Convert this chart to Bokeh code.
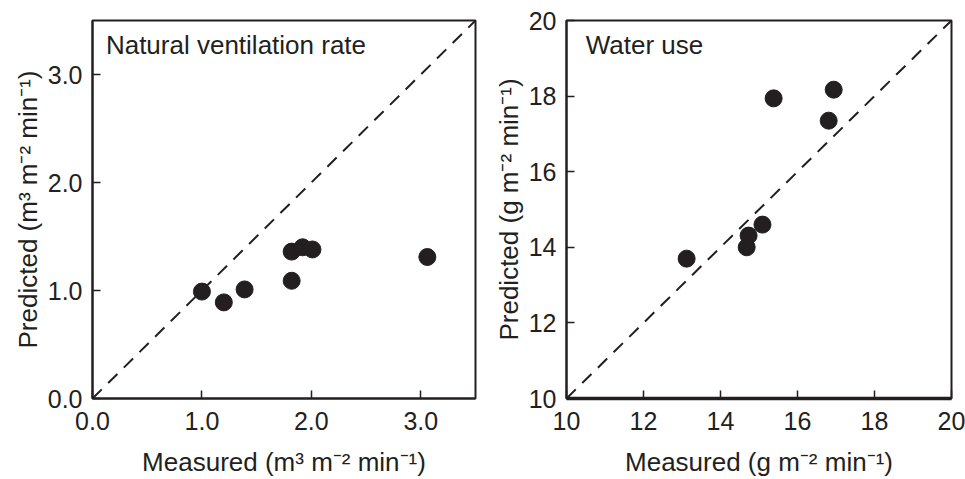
from bokeh.plotting import figure
from bokeh.layouts import row
from bokeh.models import Label, FixedTicker, Range1d
from bokeh.embed import file_html
from bokeh.resources import INLINE

# Natural ventilation rate (m3 m-2 min-1)
vent_measured = [1.00, 1.20, 1.39, 1.82, 1.82, 1.92, 2.01, 3.06]
vent_predicted = [0.99, 0.89, 1.01, 1.09, 1.36, 1.40, 1.38, 1.31]
vent_ticks = [0.0, 1.0, 2.0, 3.0]
vent_range = [0.0, 3.5]

# Water use (g m-2 min-1)
water_measured = [13.12, 14.68, 14.73, 15.09, 15.38, 16.81, 16.94]
water_predicted = [13.70, 14.00, 14.31, 14.60, 17.94, 17.35, 18.17]
water_ticks = [10, 12, 14, 16, 18, 20]
water_range = [10, 20]

INK = "#231f20"
FONT = "Liberation Sans"


def make_panel(xs, ys, rng, ticks, fmt, title, xlabel, ylabel, width, left, right, title_dx):
    p = figure(width=width, height=479, output_backend="svg", toolbar_location=None,
               x_range=Range1d(*rng), y_range=Range1d(*rng),
               min_border_left=left, min_border_right=right,
               min_border_top=20, min_border_bottom=81)
    p.grid.visible = False
    p.background_fill_color = "white"
    p.border_fill_color = "white"
    p.outline_line_color = INK
    p.outline_line_width = 2
    p.outline_line_alpha = 1
    p.line(rng, rng, line_color=INK, line_width=2, line_dash="13 9")
    p.scatter(xs, ys, size=17, fill_color=INK, line_color=INK)
    for ax in (p.xaxis[0], p.yaxis[0]):
        ax.ticker = FixedTicker(ticks=ticks)
        ax.major_tick_in = 8
        ax.major_tick_out = 0
        ax.minor_tick_in = 0
        ax.minor_tick_out = 0
        ax.axis_line_color = INK
        ax.axis_line_width = 2
        ax.major_tick_line_color = INK
        ax.major_tick_line_width = 1.5
        ax.major_label_text_font = FONT
        ax.major_label_text_font_size = "25px"
        ax.major_label_text_color = INK
        ax.axis_label_text_font = FONT
        ax.axis_label_text_font_size = "26px"
        ax.axis_label_text_font_style = "normal"
        ax.axis_label_text_color = INK
        ax.major_label_overrides = {t: fmt.format(t) for t in ticks}
    p.xaxis[0].axis_label = xlabel
    p.yaxis[0].axis_label = ylabel
    p.xaxis[0].major_label_standoff = 13
    p.xaxis[0].axis_label_standoff = 14
    p.yaxis[0].major_label_standoff = 10
    p.yaxis[0].axis_label_standoff = 2
    span = rng[1] - rng[0]
    p.add_layout(Label(x=rng[0] + span * title_dx, y=rng[1] - span * 0.025, text=title,
                       text_font=FONT, text_font_size="26px", text_color=INK,
                       text_baseline="top", text_align="left"))
    return p


p1 = make_panel(vent_measured, vent_predicted, vent_range, vent_ticks, "{:.1f}",
                "Natural ventilation rate",
                "Measured (m³ m⁻² min⁻¹)", "Predicted (m³ m⁻² min⁻¹)",
                480, 92, 5, 0.035)
p2 = make_panel(water_measured, water_predicted, water_range, water_ticks, "{:d}",
                "Water use",
                "Measured (g m⁻² min⁻¹)", "Predicted (g m⁻² min⁻¹)",
                485, 86, 14, 0.05)
p2.xaxis[0].axis_line_width = 3.5

p = row(p1, p2)
open("out.html", "w").write(file_html(p, INLINE))
